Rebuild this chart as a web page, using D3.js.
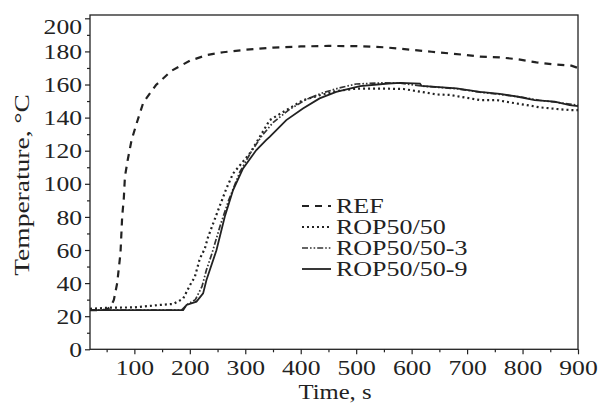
<!DOCTYPE html>
<html>
<head>
<meta charset="utf-8">
<script src="https://cdn.jsdelivr.net/npm/d3@7"></script>
<style>
  html, body { margin: 0; padding: 0; background: #fff; }
  svg text { font-family: "Liberation Serif", serif; fill: #222; }
</style>
</head>
<body>
<svg id="chart" width="604" height="412"></svg>
<script>
// --- data ---
const xTicks = [100, 200, 300, 400, 500, 600, 700, 800, 900];
const yTicks = [0, 20, 40, 60, 80, 100, 120, 140, 160, 180, 200];
const legendNames = ["REF", "ROP50/50", "ROP50/50-3", "ROP50/50-9"];

const refTime = [20, 40, 50, 57, 63, 69, 75, 78, 81, 83, 88, 95, 105, 116, 139, 167, 200, 231, 260, 300, 350, 400, 450, 500, 550, 600, 636, 669, 699, 723, 759, 792, 825, 855, 888, 900];
const refTemp = [23.7, 23.7, 24, 25.7, 29.8, 39.9, 58.2, 80.1, 91.4, 104.3, 114.4, 126.5, 137.5, 149, 159.7, 168.3, 174.4, 177.8, 179.5, 181, 182.3, 183, 183.3, 183.2, 182.5, 181, 179.8, 178.8, 177.8, 176.8, 176.4, 175.2, 173.4, 172.2, 171.4, 170];

const rop50Time = [20, 60, 100, 146, 170, 188, 200, 209, 218, 227, 233, 251, 266, 278, 308, 323, 344, 374, 404, 434, 464, 500, 550, 585, 615, 645, 669, 699, 723, 753, 777, 807, 831, 861, 885, 900];
const rop50Temp = [24.5, 25.2, 25.3, 26.8, 27.4, 30.6, 38.6, 43.7, 54.7, 60.8, 67.9, 84, 97.2, 106.2, 118.3, 126.5, 138.5, 144.5, 150.5, 153.5, 156, 157.5, 157.5, 157.3, 155.7, 154, 153.7, 152, 150.6, 150.6, 149.2, 147.6, 146.2, 145.2, 144.6, 144.5];

const rop3Time = [20, 185, 195, 210, 222, 230, 240, 255, 270, 290, 310, 330, 350, 380, 410, 440, 470, 500, 550, 580, 620, 680, 720, 760, 800, 830, 860, 900];
const rop3Temp = [23.7, 23.7, 27, 30, 38, 48, 58, 75, 90, 107, 119, 129, 137, 145, 151, 155, 158, 160.3, 161, 160.8, 159, 157.5, 155.5, 154, 152.3, 150.5, 149.3, 147.5];

const rop9Time = [20, 188, 194, 212, 224, 230, 235, 248, 263, 278, 296, 320, 338, 344, 374, 404, 434, 464, 507, 558, 579, 615, 618, 681, 723, 759, 792, 822, 858, 885, 900];
const rop9Temp = [23.7, 23.7, 26.8, 28.8, 33.8, 41.9, 46.9, 59.8, 80.1, 96.2, 109.3, 120.4, 126.5, 128.4, 138.5, 145.5, 151.6, 155.6, 159, 160.6, 161, 160.6, 159.1, 157.7, 155.6, 154.3, 152.6, 150.6, 149.6, 147.6, 147];

// --- layout ---
const svg = d3.select("#chart");
const plot = { left: 90, right: 578, top: 15, bottom: 349.3 };

const x = d3.scaleLinear().domain([20, 900]).range([plot.left, plot.right]);
const y = d3.scaleLinear().domain([0, 202]).range([plot.bottom, plot.top]);

// the reference font is a wide Times, so stretch the text a bit
function stretch(sel, k) {
    sel.each(function() {
        const w = this.getComputedTextLength();
        d3.select(this).attr("textLength", w * k).attr("lengthAdjust", "spacingAndGlyphs");
    });
}

// minor ticks first
svg.append("g")
    .attr("transform", `translate(0,${plot.bottom})`)
    .call(d3.axisBottom(x).tickValues(d3.range(50, 900, 100)).tickSize(3).tickFormat(""))
    .call(g => g.select(".domain").remove());
svg.append("g")
    .attr("transform", `translate(${plot.left},0)`)
    .call(d3.axisLeft(y).tickValues(d3.range(10, 200, 20)).tickSize(3).tickFormat(""))
    .call(g => g.select(".domain").remove());

const xAxis = svg.append("g")
    .attr("transform", `translate(0,${plot.bottom})`)
    .call(d3.axisBottom(x).tickValues(xTicks).tickSize(5).tickPadding(4))
    .call(g => g.select(".domain").remove());
xAxis.selectAll("text").attr("font-size", 21).attr("dy", "0.78em");

const yAxis = svg.append("g")
    .attr("transform", `translate(${plot.left},0)`)
    .call(d3.axisLeft(y).tickValues(yTicks).tickSize(5).tickPadding(3))
    .call(g => g.select(".domain").remove());
yAxis.selectAll("text").attr("font-size", 21)
    .attr("dy", d => d === 200 ? "0.72em" : "0.34em");

svg.selectAll("g").attr("font-family", "Liberation Serif");
svg.selectAll(".tick line").attr("stroke", "#222").attr("stroke-width", 1.2);
svg.selectAll(".tick text").attr("fill", "#222");

// frame
svg.append("rect")
    .attr("x", plot.left).attr("y", plot.top)
    .attr("width", plot.right - plot.left).attr("height", plot.bottom - plot.top)
    .attr("fill", "none").attr("stroke", "#222").attr("stroke-width", 1.3);

// series
const series = [
    { time: refTime, temp: refTemp, dash: "7,6", width: 2.2, color: "#222" },
    { time: rop50Time, temp: rop50Temp, dash: "2,3", width: 2.2, color: "#222" },
    { time: rop3Time, temp: rop3Temp, dash: "6,2,1.6,2,1.6,2", width: 1.7, color: "#333" },
    { time: rop9Time, temp: rop9Temp, dash: null, width: 1.8, color: "#222" }
];

const line = d3.line()
    .x(d => x(d[0]))
    .y(d => y(d[1]));

svg.append("g").selectAll("path")
    .data(series)
    .join("path")
    .attr("d", s => line(d3.zip(s.time, s.temp)))
    .attr("fill", "none")
    .attr("stroke", s => s.color)
    .attr("stroke-width", s => s.width)
    .attr("stroke-dasharray", s => s.dash);

// legend
const legendY = [206, 227, 248, 269];
const legend = svg.append("g").selectAll("g")
    .data(series)
    .join("g")
    .attr("transform", (s, i) => `translate(302,${legendY[i]})`);
legend.append("line")
    .attr("x1", 0).attr("x2", 29)
    .attr("stroke", s => s.color)
    .attr("stroke-width", s => s.width)
    .attr("stroke-dasharray", s => s.dash);
const legendText = legend.append("text")
    .attr("x", 34).attr("dy", "0.35em")
    .attr("font-size", 20)
    .text((s, i) => legendNames[i]);

// axis titles
const xTitle = svg.append("text")
    .attr("x", 335).attr("y", 399)
    .attr("text-anchor", "middle")
    .attr("font-size", 22)
    .text("Time, s");
const yTitle = svg.append("text")
    .attr("transform", "translate(29,185) rotate(-90)")
    .attr("text-anchor", "middle")
    .attr("font-size", 22)
    .text("Temperature, \u00B0C");

stretch(xAxis.selectAll("text"), 1.22);
stretch(yAxis.selectAll("text"), 1.22);
stretch(legendText, 1.3);
stretch(xTitle, 1.12);
stretch(yTitle, 1.25);
</script>
</body>
</html>
